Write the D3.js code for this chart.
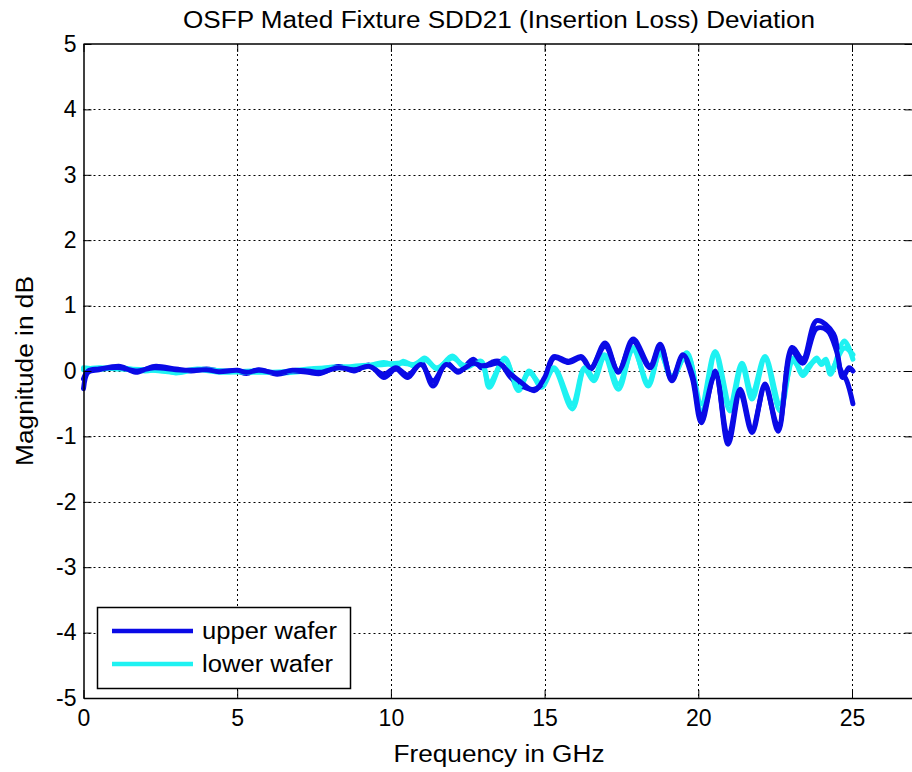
<!DOCTYPE html>
<html><head><meta charset="utf-8">
<script src="https://cdn.jsdelivr.net/npm/d3@7"></script>
<style>body{margin:0;background:#fff}svg{display:block}text{font-family:"Liberation Sans",Arial,sans-serif;fill:#000}</style>
</head><body>
<script>
const xTicks = [0, 5, 10, 15, 20, 25];
const yTicks = [-5, -4, -3, -2, -1, 0, 1, 2, 3, 4, 5];
const seriesNames = ["upper wafer", "lower wafer"];
const seriesColors = ["#0a0ae6", "#1ef2f2"];

const upperWafer1 = [[0,-0.27],[0.15,-0.02],[0.5,0.02],[1.2,0.07],[1.7,-0.02],[2.3,0.07],[3.0,0.03],[3.5,0.0],[4.0,0.03],[4.4,0.0],[5.0,0.0],[5.3,-0.04],[5.7,0.02],[6.3,-0.05],[6.8,0.0],[7.3,-0.02],[7.7,-0.04],[8.3,0.07],[8.8,0.0],[9.3,0.09],[9.77,-0.1],[10.16,0.03],[10.55,-0.1],[10.98,0.13],[11.37,-0.23],[11.8,0.13],[12.19,-0.02],[12.68,0.18],[12.94,0.05],[13.27,0.13],[13.5,0.15],[13.9,-0.1],[14.25,-0.23],[14.67,-0.28],[15.0,-0.15],[15.3,0.2],[15.78,0.13],[16.2,0.2],[16.5,0.03],[16.97,0.43],[17.4,-0.02],[17.88,0.49],[18.43,0.08],[18.76,0.41],[19.14,-0.15],[19.5,0.23],[19.8,-0.1],[20.1,-0.79],[20.55,0.0],[20.97,-1.12],[21.36,-0.33],[21.75,-0.94],[22.17,-0.2],[22.6,-0.92],[23.05,0.36],[23.4,0.18],[23.85,0.77],[24.4,0.57],[24.6,0.05],[24.83,-0.15],[25.03,-0.5]];
const upperWafer2 = [[0,-0.12],[0.15,0.0],[0.5,0.03],[1.2,0.05],[1.7,0.0],[2.3,0.05],[3.0,0.02],[3.5,0.01],[4.0,0.02],[4.4,-0.01],[5.0,0.01],[5.3,-0.02],[5.7,0.01],[6.3,-0.03],[6.8,0.01],[7.3,0.0],[7.7,-0.02],[8.3,0.05],[8.8,0.02],[9.3,0.07],[9.77,-0.05],[10.16,0.05],[10.55,-0.06],[10.98,0.1],[11.37,-0.15],[11.8,0.1],[12.19,0.0],[12.68,0.12],[12.94,0.08],[13.27,0.1],[13.5,0.12],[13.9,-0.05],[14.25,-0.18],[14.67,-0.3],[15.0,-0.1],[15.3,0.22],[15.78,0.15],[16.2,0.22],[16.5,0.05],[16.97,0.38],[17.4,0.0],[17.88,0.45],[18.43,0.05],[18.76,0.38],[19.14,-0.12],[19.5,0.25],[19.8,-0.05],[20.1,-0.7],[20.55,-0.05],[20.97,-1.02],[21.36,-0.28],[21.75,-0.88],[22.17,-0.25],[22.6,-0.85],[23.05,0.3],[23.4,0.12],[23.85,0.65],[24.2,0.62],[24.5,0.3],[24.7,-0.1],[24.9,0.05],[25.03,0.0]];
const lowerWafer1 = [[0,0.05],[0.5,0.03],[1.2,0.05],[2.0,0.0],[2.5,0.03],[3.0,-0.03],[3.7,0.02],[4.5,-0.02],[5.5,0.0],[6.5,-0.03],[7.5,0.02],[8.3,0.07],[9.0,0.05],[9.77,0.13],[10.2,0.08],[10.4,0.15],[10.75,0.08],[11.1,0.2],[11.5,0.03],[12.0,0.23],[12.4,0.05],[12.94,0.15],[13.2,-0.25],[13.7,0.2],[14.15,-0.3],[14.5,0.0],[14.9,-0.25],[15.3,0.03],[15.9,-0.58],[16.3,0.03],[16.6,-0.15],[16.95,0.22],[17.4,-0.28],[17.88,0.36],[18.37,-0.23],[18.76,0.3],[19.14,-0.12],[19.63,0.28],[20.1,-0.61],[20.55,0.25],[21.03,-0.61],[21.42,0.08],[21.75,-0.43],[22.17,0.18],[22.66,-0.61],[23.08,0.2],[23.4,-0.07],[23.6,0.05],[23.85,0.2],[24.0,0.1],[24.15,0.15],[24.3,-0.05],[24.75,0.46],[25.03,0.18]];
const lowerWafer2 = [[0,0.02],[0.5,0.05],[1.2,0.03],[2.0,0.02],[2.5,0.0],[3.0,-0.02],[3.7,0.03],[4.5,0.0],[5.5,-0.02],[6.5,-0.01],[7.5,0.04],[8.3,0.05],[9.0,0.08],[9.77,0.1],[10.2,0.12],[10.4,0.12],[10.75,0.1],[11.1,0.17],[11.5,0.05],[12.0,0.2],[12.4,0.08],[12.94,0.12],[13.2,-0.18],[13.7,0.17],[14.15,-0.25],[14.5,-0.03],[14.9,-0.2],[15.3,0.05],[15.9,-0.5],[16.3,0.05],[16.6,-0.1],[16.95,0.25],[17.4,-0.2],[17.88,0.32],[18.37,-0.18],[18.76,0.27],[19.14,-0.08],[19.63,0.25],[20.1,-0.5],[20.55,0.3],[21.03,-0.5],[21.42,0.12],[21.75,-0.35],[22.17,0.22],[22.66,-0.5],[23.08,0.15],[23.4,-0.02],[23.6,0.08],[23.85,0.17],[24.0,0.12],[24.15,0.18],[24.3,0.0],[24.75,0.35],[25.03,0.25]];

const W = 912, H = 772;
const mLeft = 83.5, mTop = 44, mBottom = 698;
const x = d3.scaleLinear().domain([0, 27]).range([mLeft, mLeft + 27 * 30.74]);
const y = d3.scaleLinear().domain([-5, 5]).range([mBottom, mTop]);
const mRight = 912.5;

const svg = d3.select("body").append("svg").attr("width", W).attr("height", H);
svg.append("rect").attr("width", W).attr("height", H).attr("fill", "#fff");

// grid
const grid = svg.append("g").attr("stroke", "#000").attr("stroke-width", 1).attr("stroke-dasharray", "2,3");
grid.selectAll("line.v").data(xTicks.filter(d => d > 0)).join("line").attr("class", "v")
  .attr("x1", d => Math.round(x(d)) + 0.5).attr("x2", d => Math.round(x(d)) + 0.5)
  .attr("y1", mTop).attr("y2", mBottom);
grid.selectAll("line.h").data(yTicks.filter(d => d > -5 && d < 5)).join("line").attr("class", "h")
  .attr("x1", mLeft).attr("x2", mRight)
  .attr("y1", d => Math.round(y(d)) + 0.5).attr("y2", d => Math.round(y(d)) + 0.5);

// data lines
const line = d3.line().x(d => x(d[0])).y(d => y(d[1])).curve(d3.curveCatmullRom.alpha(0.5));
const traces = [
  {data: lowerWafer1, c: seriesColors[1]},
  {data: upperWafer1, c: seriesColors[0]},
  {data: lowerWafer2, c: seriesColors[1]},
  {data: upperWafer2, c: seriesColors[0]}
];
svg.append("g").selectAll("path").data(traces).join("path")
  .attr("d", d => line(d.data)).attr("fill", "none")
  .attr("stroke", d => d.c).attr("stroke-width", 5)
  .attr("stroke-linejoin", "round").attr("stroke-linecap", "round");

// axes
const fmt = d => String(d);
const xAxis = d3.axisBottom(x).tickValues(xTicks).tickFormat(fmt).tickSizeInner(-8).tickSizeOuter(0).tickPadding(12);
const gx = svg.append("g").attr("transform", `translate(0,${mBottom})`).call(xAxis);
const yAxis = d3.axisLeft(y).tickValues(yTicks).tickFormat(fmt).tickSizeInner(-8).tickSizeOuter(0).tickPadding(7);
const gy = svg.append("g").attr("transform", `translate(${mLeft},0)`).call(yAxis);
const xAxisTop = d3.axisTop(x).tickValues(xTicks).tickFormat("").tickSizeInner(-8).tickSizeOuter(0);
const gxt = svg.append("g").attr("transform", `translate(0,${mTop})`).call(xAxisTop);
const yAxisRight = d3.axisRight(y).tickValues(yTicks).tickFormat("").tickSizeInner(-8).tickSizeOuter(0);
const gyr = svg.append("g").attr("transform", `translate(${mRight},0)`).call(yAxisRight);
[gx, gy, gxt, gyr].forEach(g => {
  g.selectAll("path.domain").attr("stroke", "#000").attr("stroke-width", 1.5);
  g.selectAll(".tick line").attr("stroke", "#000").attr("stroke-width", 1);
  g.selectAll(".tick text").attr("font-size", 23).attr("font-family", "Liberation Sans, Arial, sans-serif").attr("fill", "#000");
});
gxt.select("path.domain").attr("d", `M${mLeft},0H${mRight}`);
gyr.select("path.domain").remove();

// title and labels
const cx = 499;
svg.append("text").attr("x", cx).attr("y", 28).attr("text-anchor", "middle").attr("font-size", 23.5)
  .attr("textLength", 632).attr("lengthAdjust", "spacingAndGlyphs")
  .text("OSFP Mated Fixture SDD21 (Insertion Loss) Deviation");
svg.append("text").attr("x", cx).attr("y", 762).attr("text-anchor", "middle").attr("font-size", 23.5)
  .attr("textLength", 211).attr("lengthAdjust", "spacingAndGlyphs")
  .text("Frequency in GHz");
svg.append("text").attr("transform", `translate(33,371) rotate(-90)`).attr("text-anchor", "middle").attr("font-size", 23.5)
  .attr("textLength", 190).attr("lengthAdjust", "spacingAndGlyphs")
  .text("Magnitude in dB");

// legend
const legendLens = [135, 131];
const lg = svg.append("g");
lg.append("rect").attr("x", 97.5).attr("y", 607.5).attr("width", 253).attr("height", 81)
  .attr("fill", "#fff").attr("stroke", "#000").attr("stroke-width", 1.5);
seriesNames.forEach((n, i) => {
  const ly = 631 + i * 33;
  lg.append("line").attr("x1", 112).attr("x2", 193).attr("y1", ly).attr("y2", ly)
    .attr("stroke", seriesColors[i]).attr("stroke-width", 4.5);
  lg.append("text").attr("x", 202).attr("y", ly + 8).attr("font-size", 23)
    .attr("textLength", legendLens[i]).attr("lengthAdjust", "spacingAndGlyphs").text(n);
});
</script>
</body></html>
